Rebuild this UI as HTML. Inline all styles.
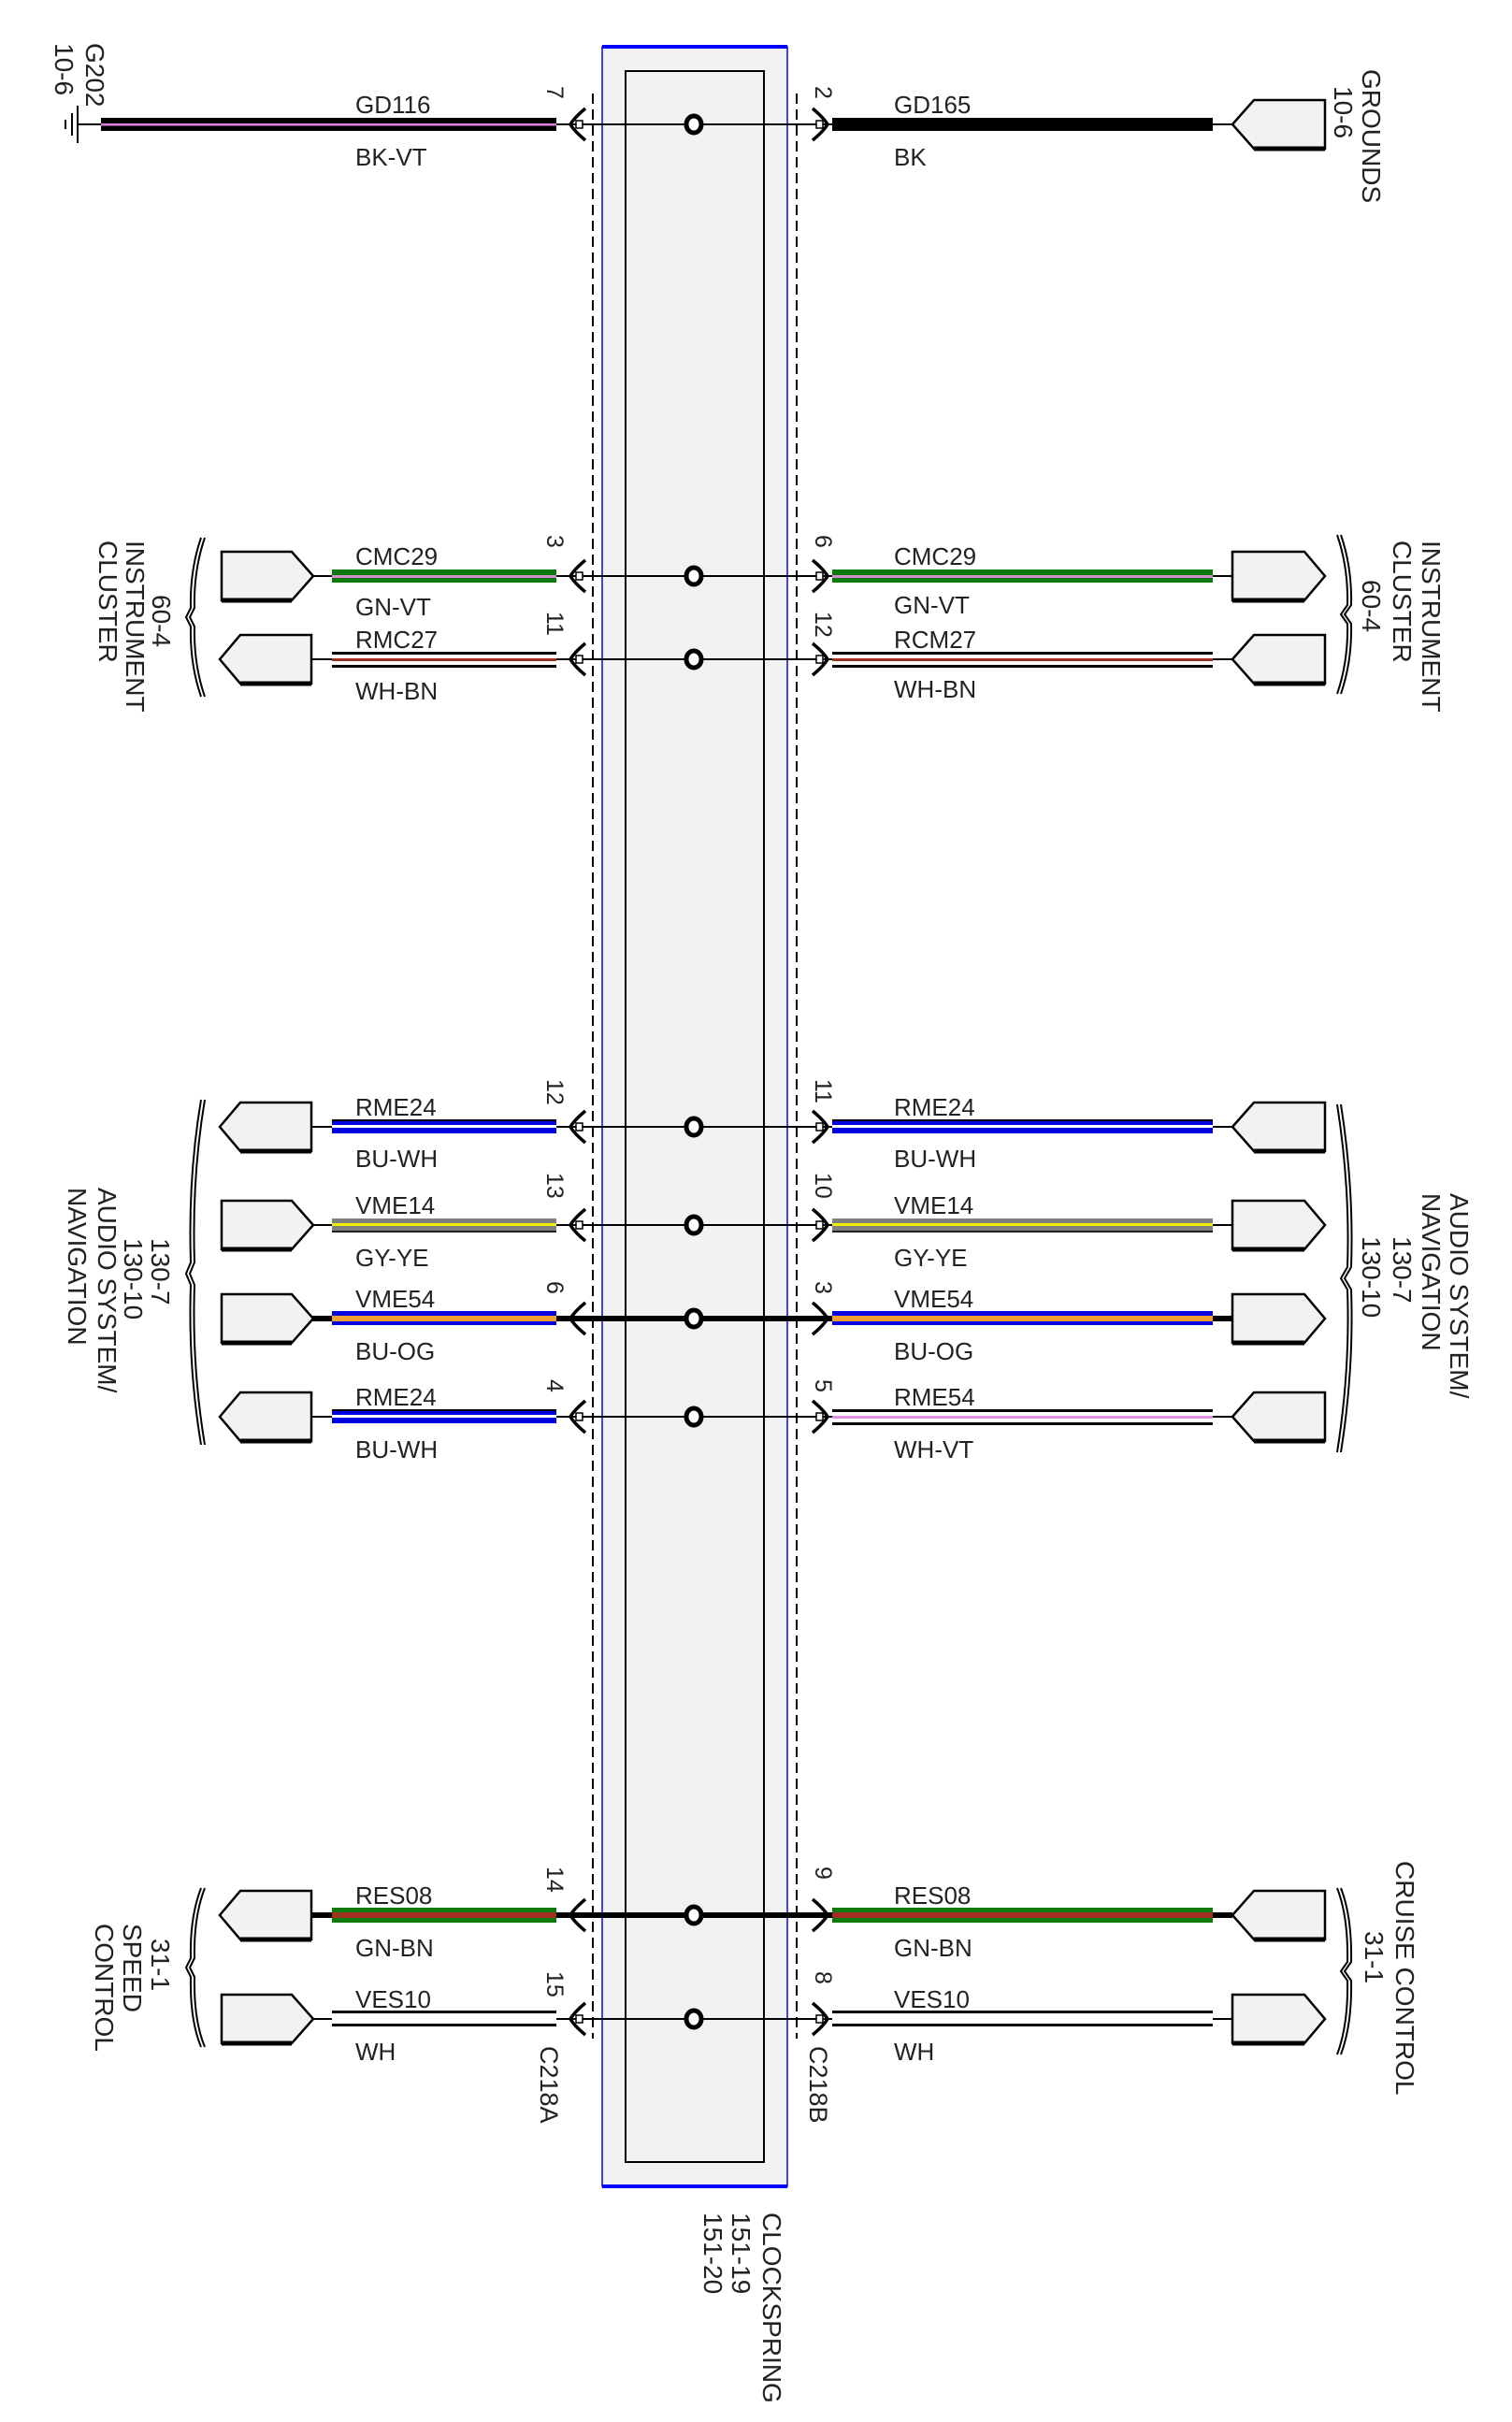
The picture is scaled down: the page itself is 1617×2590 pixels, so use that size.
<!DOCTYPE html>
<html><head><meta charset="utf-8"><style>
html,body{margin:0;padding:0;background:#fff}
svg{display:block}
text{font-family:"Liberation Sans",sans-serif;fill:#222}
.w{font-size:26px}
.p{font-size:25px;fill:#444}
.s{font-size:28px;fill:#333}
</style></head><body>
<svg width="1617" height="2590" viewBox="0 0 1617 2590" xmlns="http://www.w3.org/2000/svg">
<rect x="644" y="50" width="198" height="2288" fill="#f2f2f2" stroke="#0000ff" stroke-width="1.5"/>
<rect x="644" y="48" width="198" height="4" fill="#0000ff"/>
<rect x="644" y="2336" width="198" height="4" fill="#0000ff"/>
<rect x="669" y="76" width="148" height="2236" fill="#f2f2f2" stroke="#000" stroke-width="2"/>
<line x1="634" y1="100" x2="634" y2="2180" stroke="#000" stroke-width="2" stroke-dasharray="11,6"/>
<line x1="852" y1="100" x2="852" y2="2180" stroke="#000" stroke-width="2" stroke-dasharray="11,6"/>

<g stroke="#000" stroke-width="2">
<line x1="83" y1="133" x2="1318" y2="133"/>
<line x1="333" y1="616" x2="1318" y2="616"/>
<line x1="333" y1="705" x2="1318" y2="705"/>
<line x1="333" y1="1205" x2="1318" y2="1205"/>
<line x1="333" y1="1310" x2="1318" y2="1310"/>
<line x1="333" y1="1410" x2="1318" y2="1410" stroke-width="6"/>
<line x1="333" y1="1515" x2="1318" y2="1515"/>
<line x1="333" y1="2048" x2="1318" y2="2048" stroke-width="6"/>
<line x1="333" y1="2159" x2="1318" y2="2159"/>
</g>
<g stroke="#000" stroke-width="2">
<line x1="83" y1="113" x2="83" y2="153"/><line x1="77" y1="121" x2="77" y2="145"/><line x1="70" y1="128" x2="70" y2="138"/>
</g>

<rect x="108" y="126" width="487" height="14" fill="#000"/><rect x="108" y="132" width="487" height="2.5" fill="#e080e0"/>
<rect x="890" y="126" width="407" height="14" fill="#000"/>
<rect x="355" y="609" width="240" height="14" fill="#0a7a0a"/><rect x="355" y="615" width="240" height="3" fill="#d090d0"/>
<rect x="890" y="609" width="407" height="14" fill="#0a7a0a"/><rect x="890" y="615" width="407" height="3" fill="#d090d0"/>
<g><rect x="355" y="698" width="240" height="14" fill="#fff"/><rect x="355" y="697" width="240" height="3" fill="#000"/><rect x="355" y="711" width="240" height="3" fill="#000"/><rect x="355" y="704" width="240" height="3" fill="#a03020"/></g>
<g><rect x="890" y="698" width="407" height="14" fill="#fff"/><rect x="890" y="697" width="407" height="3" fill="#000"/><rect x="890" y="711" width="407" height="3" fill="#000"/><rect x="890" y="704" width="407" height="3" fill="#a03020"/></g>
<rect x="355" y="1197" width="240" height="15" fill="#0000e0"/><rect x="355" y="1197" width="240" height="2" fill="#000"/><rect x="355" y="1203" width="240" height="3" fill="#fff"/>
<rect x="890" y="1197" width="407" height="15" fill="#0000e0"/><rect x="890" y="1197" width="407" height="2" fill="#000"/><rect x="890" y="1203" width="407" height="3" fill="#fff"/>
<rect x="355" y="1303" width="240" height="15" fill="#808080"/><rect x="355" y="1316" width="240" height="2" fill="#222"/><rect x="355" y="1308" width="240" height="3" fill="#f0f000"/>
<rect x="890" y="1303" width="407" height="15" fill="#808080"/><rect x="890" y="1316" width="407" height="2" fill="#222"/><rect x="890" y="1308" width="407" height="3" fill="#f0f000"/>
<rect x="355" y="1402" width="240" height="15" fill="#0000e0"/><rect x="355" y="1407" width="240" height="6" fill="#f0a030"/>
<rect x="890" y="1402" width="407" height="15" fill="#0000e0"/><rect x="890" y="1407" width="407" height="6" fill="#f0a030"/>
<rect x="355" y="1507" width="240" height="15" fill="#0000e0"/><rect x="355" y="1507" width="240" height="2" fill="#000"/><rect x="355" y="1513" width="240" height="3" fill="#fff"/>
<g><rect x="890" y="1508" width="407" height="14" fill="#fff"/><rect x="890" y="1507" width="407" height="3" fill="#000"/><rect x="890" y="1521" width="407" height="3" fill="#000"/><rect x="890" y="1514" width="407" height="3" fill="#e090e0"/></g>
<rect x="355" y="2040" width="240" height="16" fill="#0a7a0a"/><rect x="355" y="2045" width="240" height="6" fill="#a03020"/>
<rect x="890" y="2040" width="407" height="16" fill="#0a7a0a"/><rect x="890" y="2045" width="407" height="6" fill="#a03020"/>
<g><rect x="355" y="2151" width="240" height="15" fill="#fff"/><rect x="355" y="2150" width="240" height="3" fill="#000"/><rect x="355" y="2164" width="240" height="3" fill="#000"/></g>
<g><rect x="890" y="2151" width="407" height="15" fill="#fff"/><rect x="890" y="2150" width="407" height="3" fill="#000"/><rect x="890" y="2164" width="407" height="3" fill="#000"/></g>

<g fill="#f2f2f2" stroke="#000" stroke-width="2.5" stroke-linejoin="miter">
<polygon points="1318,133 1341,107 1417,107 1417,159 1341,159"/>
<polygon points="237,590 312,590 335,616 312,642 237,642"/>
<polygon points="1318,590 1395,590 1417,616 1395,642 1318,642"/>
<polygon points="235,705 257,679 333,679 333,731 257,731"/>
<polygon points="1318,705 1341,679 1417,679 1417,731 1341,731"/>
<polygon points="235,1205 257,1179 333,1179 333,1231 257,1231"/>
<polygon points="1318,1205 1341,1179 1417,1179 1417,1231 1341,1231"/>
<polygon points="237,1284 312,1284 335,1310 312,1336 237,1336"/>
<polygon points="1318,1284 1395,1284 1417,1310 1395,1336 1318,1336"/>
<polygon points="237,1384 312,1384 335,1410 312,1436 237,1436"/>
<polygon points="1318,1384 1395,1384 1417,1410 1395,1436 1318,1436"/>
<polygon points="235,1515 257,1489 333,1489 333,1541 257,1541"/>
<polygon points="1318,1515 1341,1489 1417,1489 1417,1541 1341,1541"/>
<polygon points="235,2048 257,2022 333,2022 333,2074 257,2074"/>
<polygon points="1318,2048 1341,2022 1417,2022 1417,2074 1341,2074"/>
<polygon points="237,2133 312,2133 335,2159 312,2185 237,2185"/>
<polygon points="1318,2133 1395,2133 1417,2159 1395,2185 1318,2185"/>
</g>
<g stroke="#000" stroke-width="5">
<line x1="1341" y1="159" x2="1417" y2="159"/>
<line x1="237" y1="642" x2="312" y2="642"/><line x1="1318" y1="642" x2="1395" y2="642"/>
<line x1="257" y1="731" x2="333" y2="731"/><line x1="1341" y1="731" x2="1417" y2="731"/>
<line x1="257" y1="1231" x2="333" y2="1231"/><line x1="1341" y1="1231" x2="1417" y2="1231"/>
<line x1="237" y1="1336" x2="312" y2="1336"/><line x1="1318" y1="1336" x2="1395" y2="1336"/>
<line x1="237" y1="1436" x2="312" y2="1436"/><line x1="1318" y1="1436" x2="1395" y2="1436"/>
<line x1="257" y1="1541" x2="333" y2="1541"/><line x1="1341" y1="1541" x2="1417" y2="1541"/>
<line x1="257" y1="2074" x2="333" y2="2074"/><line x1="1341" y1="2074" x2="1417" y2="2074"/>
<line x1="237" y1="2185" x2="312" y2="2185"/><line x1="1318" y1="2185" x2="1395" y2="2185"/>
</g>

<g fill="none" stroke="#000" stroke-width="3.5">
<path d="M626,116 Q614,126 610,133 Q614,140 626,150"/><path d="M869,116 Q881,126 885,133 Q881,140 869,150"/>
<path d="M626,599 Q614,609 610,616 Q614,623 626,633"/><path d="M869,599 Q881,609 885,616 Q881,623 869,633"/>
<path d="M626,688 Q614,698 610,705 Q614,712 626,722"/><path d="M869,688 Q881,698 885,705 Q881,712 869,722"/>
<path d="M626,1188 Q614,1198 610,1205 Q614,1212 626,1222"/><path d="M869,1188 Q881,1198 885,1205 Q881,1212 869,1222"/>
<path d="M626,1293 Q614,1303 610,1310 Q614,1317 626,1327"/><path d="M869,1293 Q881,1303 885,1310 Q881,1317 869,1327"/>
<path d="M626,1393 Q614,1403 610,1410 Q614,1417 626,1427"/><path d="M869,1393 Q881,1403 885,1410 Q881,1417 869,1427"/>
<path d="M626,1498 Q614,1508 610,1515 Q614,1522 626,1532"/><path d="M869,1498 Q881,1508 885,1515 Q881,1522 869,1532"/>
<path d="M626,2031 Q614,2041 610,2048 Q614,2055 626,2065"/><path d="M869,2031 Q881,2041 885,2048 Q881,2055 869,2065"/>
<path d="M626,2142 Q614,2152 610,2159 Q614,2166 626,2176"/><path d="M869,2142 Q881,2152 885,2159 Q881,2166 869,2176"/>
</g>
<g fill="#fff" stroke="#000" stroke-width="1.5">
<rect x="616" y="129" width="7" height="8"/><rect x="873" y="129" width="7" height="8"/>
<rect x="616" y="612" width="7" height="8"/><rect x="873" y="612" width="7" height="8"/>
<rect x="616" y="701" width="7" height="8"/><rect x="873" y="701" width="7" height="8"/>
<rect x="616" y="1201" width="7" height="8"/><rect x="873" y="1201" width="7" height="8"/>
<rect x="616" y="1306" width="7" height="8"/><rect x="873" y="1306" width="7" height="8"/>
<rect x="616" y="1511" width="7" height="8"/><rect x="873" y="1511" width="7" height="8"/>
<rect x="616" y="2155" width="7" height="8"/><rect x="873" y="2155" width="7" height="8"/>
</g>
<g fill="#fff" stroke="#000" stroke-width="5">
<ellipse cx="742" cy="133" rx="8" ry="9"/><ellipse cx="742" cy="616" rx="8" ry="9"/><ellipse cx="742" cy="705" rx="8" ry="9"/>
<ellipse cx="742" cy="1205" rx="8" ry="9"/><ellipse cx="742" cy="1310" rx="8" ry="9"/><ellipse cx="742" cy="1410" rx="8" ry="9"/>
<ellipse cx="742" cy="1515" rx="8" ry="9"/><ellipse cx="742" cy="2048" rx="8" ry="9"/><ellipse cx="742" cy="2159" rx="8" ry="9"/>
</g>

<g fill="none" stroke="#000" stroke-width="2">
<path d="M219,575 Q207,610 208,650 L203,660 L208,670 Q207,710 219,745"/>
<path d="M215,575 Q203,610 204,650 L199,660 L204,670 Q203,710 215,745"/>
<path d="M219,1176 Q205,1260 208,1350 L203,1362 L208,1374 Q205,1460 219,1545"/>
<path d="M215,1176 Q201,1260 204,1350 L199,1362 L204,1374 Q201,1460 215,1545"/>
<path d="M219,2019 Q207,2050 208,2094 L203,2104 L208,2114 Q207,2160 219,2189"/>
<path d="M215,2019 Q203,2050 204,2094 L199,2104 L204,2114 Q203,2160 215,2189"/>
<path d="M1430,572 Q1442,607 1441,647 L1434,657 L1441,667 Q1442,707 1430,742"/>
<path d="M1434,572 Q1446,607 1445,647 L1438,657 L1445,667 Q1446,707 1434,742"/>
<path d="M1430,1181 Q1444,1270 1441,1355 L1434,1367 L1441,1379 Q1444,1465 1430,1553"/>
<path d="M1434,1181 Q1448,1270 1445,1355 L1438,1367 L1445,1379 Q1448,1465 1434,1553"/>
<path d="M1430,2019 Q1442,2050 1441,2098 L1434,2108 L1441,2118 Q1442,2165 1430,2197"/>
<path d="M1434,2019 Q1446,2050 1445,2098 L1438,2108 L1445,2118 Q1446,2165 1434,2197"/>
</g>

<g class="w">
<text x="380" y="121">GD116</text><text x="380" y="177">BK-VT</text>
<text x="956" y="121">GD165</text><text x="956" y="177">BK</text>
<text x="380" y="604">CMC29</text><text x="380" y="658">GN-VT</text>
<text x="956" y="604">CMC29</text><text x="956" y="656">GN-VT</text>
<text x="380" y="693">RMC27</text><text x="380" y="748">WH-BN</text>
<text x="956" y="693">RCM27</text><text x="956" y="746">WH-BN</text>
<text x="380" y="1193">RME24</text><text x="380" y="1248">BU-WH</text>
<text x="956" y="1193">RME24</text><text x="956" y="1248">BU-WH</text>
<text x="380" y="1298">VME14</text><text x="380" y="1354">GY-YE</text>
<text x="956" y="1298">VME14</text><text x="956" y="1354">GY-YE</text>
<text x="380" y="1398">VME54</text><text x="380" y="1454">BU-OG</text>
<text x="956" y="1398">VME54</text><text x="956" y="1454">BU-OG</text>
<text x="380" y="1503">RME24</text><text x="380" y="1559">BU-WH</text>
<text x="956" y="1503">RME54</text><text x="956" y="1559">WH-VT</text>
<text x="380" y="2036">RES08</text><text x="380" y="2092">GN-BN</text>
<text x="956" y="2036">RES08</text><text x="956" y="2092">GN-BN</text>
<text x="380" y="2147">VES10</text><text x="380" y="2203">WH</text>
<text x="956" y="2147">VES10</text><text x="956" y="2203">WH</text>
</g>

<g class="p">
<text transform="translate(585,92) rotate(90)">7</text><text transform="translate(872,92) rotate(90)">2</text>
<text transform="translate(585,572) rotate(90)">3</text><text transform="translate(872,572) rotate(90)">6</text>
<text transform="translate(585,654) rotate(90)">11</text><text transform="translate(872,654) rotate(90)">12</text>
<text transform="translate(585,1154) rotate(90)">12</text><text transform="translate(872,1154) rotate(90)">11</text>
<text transform="translate(585,1254) rotate(90)">13</text><text transform="translate(872,1254) rotate(90)">10</text>
<text transform="translate(585,1370) rotate(90)">6</text><text transform="translate(872,1370) rotate(90)">3</text>
<text transform="translate(585,1475) rotate(90)">4</text><text transform="translate(872,1475) rotate(90)">5</text>
<text transform="translate(585,1996) rotate(90)">14</text><text transform="translate(872,1996) rotate(90)">9</text>
<text transform="translate(585,2108) rotate(90)">15</text><text transform="translate(872,2108) rotate(90)">8</text>
<text transform="translate(578,2188) rotate(90)" style="font-size:27px">C218A</text>
<text transform="translate(866,2188) rotate(90)" style="font-size:27px">C218B</text>
</g>

<g class="s">
<text transform="translate(92,46) rotate(90)">G202</text>
<text transform="translate(59,46) rotate(90)">10-6</text>
<text transform="translate(1457,74) rotate(90)">GROUNDS</text>
<text transform="translate(1427,92) rotate(90)">10-6</text>

<text transform="translate(163,636) rotate(90)">60-4</text>
<text transform="translate(135,578) rotate(90)">INSTRUMENT</text>
<text transform="translate(106,578) rotate(90)">CLUSTER</text>
<text transform="translate(1521,578) rotate(90)">INSTRUMENT</text>
<text transform="translate(1490,578) rotate(90)">CLUSTER</text>
<text transform="translate(1457,620) rotate(90)">60-4</text>

<text transform="translate(162,1324) rotate(90)">130-7</text>
<text transform="translate(133,1324) rotate(90)">130-10</text>
<text transform="translate(105,1270) rotate(90)">AUDIO SYSTEM/</text>
<text transform="translate(73,1270) rotate(90)">NAVIGATION</text>
<text transform="translate(1551,1276) rotate(90)">AUDIO SYSTEM/</text>
<text transform="translate(1521,1276) rotate(90)">NAVIGATION</text>
<text transform="translate(1490,1322) rotate(90)">130-7</text>
<text transform="translate(1457,1322) rotate(90)">130-10</text>

<text transform="translate(162,2073) rotate(90)">31-1</text>
<text transform="translate(132,2057) rotate(90)">SPEED</text>
<text transform="translate(102,2057) rotate(90)">CONTROL</text>
<text transform="translate(1493,1990) rotate(90)">CRUISE CONTROL</text>
<text transform="translate(1460,2065) rotate(90)">31-1</text>

<text transform="translate(816,2366) rotate(90)">CLOCKSPRING</text>
<text transform="translate(783,2366) rotate(90)">151-19</text>
<text transform="translate(753,2366) rotate(90)">151-20</text>
</g>
</svg>
</body></html>
